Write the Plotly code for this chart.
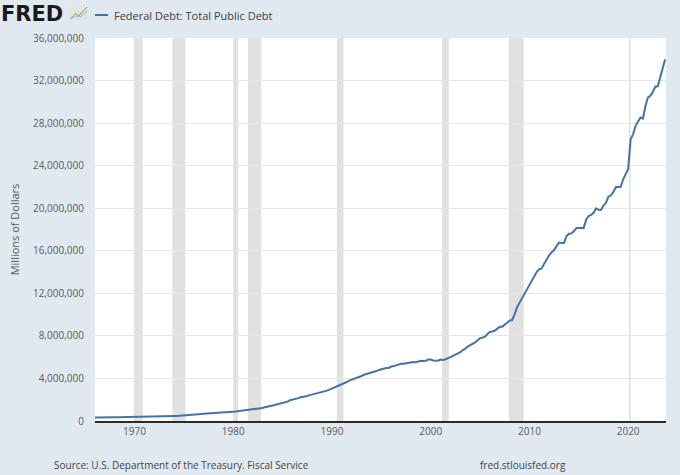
import plotly.graph_objects as go
import pandas as pd

# Federal Debt: Total Public Debt, quarterly, millions of dollars
start_date = "1966-01-01"
debt_1966_1979 = [
    321000, 316100, 324700, 329300,
    330900, 322900, 334200, 344700,
    344300, 347600, 356300, 358000,
    360400, 353700, 365800, 368200,
    369300, 370900, 382500, 389200,
    390600, 398100, 414100, 424100,
    427300, 427800, 437300, 449300,
    458100, 458100, 469100, 469900,
    474200, 475100, 486200, 492700,
    509700, 533200, 554700, 576600,
    599000, 620400, 634700, 653500,
    680000, 685200, 709100, 718900,
    749000, 771500, 780400, 797800,
    826500, 812000, 833800, 845100,
]
debt_1980_1999 = [
    873000, 884600, 914300, 930200,
    964500, 971200, 997900, 1028700,
    1061300, 1079600, 1142000, 1197100,
    1244500, 1319000, 1376000, 1410700,
    1463700, 1518600, 1572300, 1663000,
    1710600, 1774600, 1823100, 1945900,
    1986800, 2059300, 2125300, 2214800,
    2246700, 2309300, 2350300, 2431700,
    2487400, 2547800, 2602300, 2684400,
    2740900, 2799900, 2857400, 2953000,
    3052000, 3143800, 3233300, 3364800,
    3465200, 3538000, 3665300, 3801700,
    3881300, 3984700, 4064600, 4177000,
    4230600, 4352000, 4411500, 4535700,
    4575900, 4645800, 4692700, 4800200,
    4864100, 4951400, 4974000, 4988700,
    5117800, 5161100, 5224800, 5323200,
    5380900, 5376200, 5413100, 5502400,
    5542400, 5547900, 5526200, 5614200,
    5651600, 5638800, 5656300, 5776100,
]
debt_2000_2023 = [
    5773400, 5685900, 5674200, 5662200,
    5773700, 5726800, 5807500, 5943400,
    6006000, 6126500, 6228200, 6405700,
    6460800, 6670400, 6783200, 6998000,
    7131100, 7274300, 7379100, 7596100,
    7776900, 7836500, 7932700, 8170400,
    8371200, 8420000, 8507000, 8680200,
    8849700, 8867700, 9007700, 9229200,
    9437600, 9492000, 10024700, 10699800,
    11126900, 11545300, 11909800, 12311400,
    12773100, 13201800, 13561600, 14025200,
    14270000, 14343100, 14790300, 15222900,
    15582100, 15855500, 16066200, 16432700,
    16771600, 16738200, 16738200, 17352000,
    17601200, 17632600, 17824100, 18141400,
    18152100, 18152000, 18150600, 18922200,
    19264900, 19381600, 19573400, 19976800,
    19846400, 19844600, 20244900, 20492900,
    21089600, 21195000, 21516100, 21974100,
    22028000, 22023300, 22719400, 23201400,
    23686900, 26477200, 26945400, 27747800,
    28132600, 28529400, 28428900, 29617200,
    30400900, 30568600, 30928900, 31419700,
    31458400, 32332300, 33167300, 34001500,
]
debt = debt_1966_1979 + debt_1980_1999 + debt_2000_2023
dates = pd.date_range(start_date, periods=len(debt), freq="QS")

# NBER recessions (shaded)
rec_start = ["1969-12-01", "1973-11-01", "1980-01-01", "1981-07-01",
             "1990-07-01", "2001-03-01", "2007-12-01", "2020-02-01"]
rec_end = ["1970-11-01", "1975-03-01", "1980-07-01", "1982-11-01",
           "1991-03-01", "2001-11-01", "2009-06-01", "2020-04-01"]

year_ticks = [1970, 1980, 1990, 2000, 2010, 2020]
y_ticks = list(range(0, 36000001, 4000000))

font = "Open Sans"
text_grey = "#595959"
line_blue = "#4572a7"

fig = go.Figure()

fig.add_trace(
    go.Scatter(
        x=dates,
        y=debt,
        mode="lines",
        line=dict(color=line_blue, width=2),
        name="Federal Debt: Total Public Debt",
        showlegend=False,
    )
)

# recession bands
for s, e in zip(rec_start, rec_end):
    fig.add_vrect(x0=s, x1=e, fillcolor="#e1e1e1", opacity=1,
                  line_width=0, layer="below")

# manual legend (short FRED style line sample)
fig.add_shape(type="line", xref="paper", yref="paper",
              x0=0.0, x1=0.023, y0=1.06, y1=1.06,
              line=dict(color=line_blue, width=2))
fig.add_annotation(text="Federal Debt: Total Public Debt", xref="paper", yref="paper",
                   x=0.03, y=1.06, xanchor="left", yanchor="middle", showarrow=False,
                   font=dict(family=font, size=11, color="#3c3c3c"))

# FRED logo
fig.add_annotation(text="<b>FRED</b>", xref="paper", yref="paper",
                   x=-0.168, y=1.063, xanchor="left", yanchor="middle", showarrow=False,
                   font=dict(family="DejaVu Sans", size=21, color="#1a1a1a"))
fig.add_shape(type="rect", xref="paper", yref="paper",
              x0=-0.044, x1=-0.012, y0=1.047, y1=1.084,
              fillcolor="#e2e6de", line_width=0)
fig.add_shape(type="path", xref="paper", yref="paper",
              path="M -0.042 1.052 L -0.034 1.064 L -0.028 1.058 L -0.020 1.072 L -0.014 1.081",
              line=dict(color="#7ba05b", width=1))
fig.add_shape(type="path", xref="paper", yref="paper",
              path="M -0.042 1.050 L -0.033 1.058 L -0.026 1.055 L -0.014 1.070",
              line=dict(color="#9db4c9", width=1))

# footer
fig.add_annotation(text="Source: U.S. Department of the Treasury. Fiscal Service",
                   xref="paper", yref="paper", x=-0.075, y=-0.115,
                   xanchor="left", yanchor="middle", showarrow=False,
                   font=dict(family=font, size=10, color="#444444"))
fig.add_annotation(text="fred.stlouisfed.org", xref="paper", yref="paper",
                   x=0.67, y=-0.115, xanchor="left", yanchor="middle", showarrow=False,
                   font=dict(family=font, size=10, color="#444444"))

fig.update_xaxes(
    type="date",
    range=[start_date, "2023-11-01"],
    tickvals=[f"{y}-01-01" for y in year_ticks],
    ticktext=[str(y) for y in year_ticks],
    showgrid=False,
    zeroline=False,
    showline=True,
    linecolor="#2b2b2b",
    linewidth=2,
    ticks="",
    automargin=False,
    tickfont=dict(family=font, size=10, color=text_grey),
)
fig.update_yaxes(
    range=[0, 36000000],
    tickvals=y_ticks,
    tickformat=",",
    gridcolor="#e6e6e6",
    gridwidth=1,
    zeroline=False,
    ticks="",
    automargin=False,
    ticklabelstandoff=10,
    tickfont=dict(family=font, size=10, color=text_grey),
    title=dict(text="Millions of Dollars", standoff=11,
               font=dict(family=font, size=11, color=text_grey)),
)

fig.update_layout(
    width=680,
    height=475,
    paper_bgcolor="#e1e9f0",
    plot_bgcolor="#ffffff",
    margin=dict(l=95, r=14, t=38, b=54, autoexpand=False),
    font=dict(family=font),
)

fig.write_html(
    "out.html",
    config={"displayModeBar": False},
    post_script="document.body.style.margin='0';document.body.style.overflow='hidden';",
)
